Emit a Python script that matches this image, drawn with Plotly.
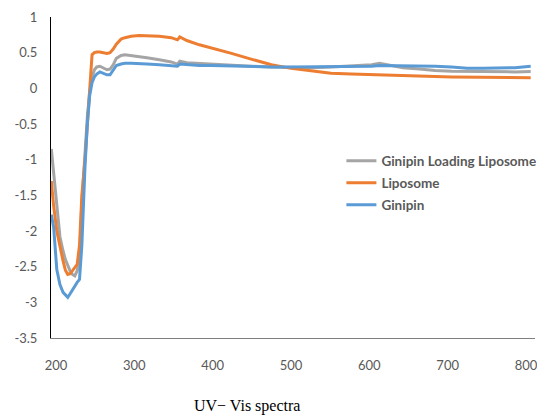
import plotly.graph_objects as go

wavelength = [194, 197, 201, 205, 209, 212, 215, 218, 221, 224, 227, 230, 233, 237, 240, 243,
              246, 249, 252, 256, 260, 265, 269, 273, 277, 283, 288, 296, 306, 316, 332, 347,
              355, 358, 367, 383, 398, 424, 449, 475, 500, 526, 551, 577, 603, 613, 623, 643,
              664, 684, 705, 725, 745, 766, 786, 806]

ginipin_loading_liposome = [-0.85, -1.2, -1.7, -2.08, -2.28, -2.4, -2.48, -2.56, -2.61, -2.63, -2.56,
                            -2.40, -1.6, -0.9, -0.4, -0.05, 0.15, 0.26, 0.30, 0.31, 0.29, 0.26, 0.27,
                            0.33, 0.42, 0.46, 0.47, 0.46, 0.45, 0.43, 0.40, 0.37, 0.34, 0.38, 0.36,
                            0.35, 0.34, 0.32, 0.31, 0.30, 0.29, 0.29, 0.30, 0.31, 0.33, 0.35, 0.33,
                            0.29, 0.27, 0.25, 0.24, 0.235, 0.23, 0.23, 0.23, 0.235]

liposome = [-1.3, -1.65, -2.0, -2.22, -2.42, -2.55, -2.61, -2.60, -2.56, -2.52, -2.47, -2.2, -1.5,
            -1.0, -0.5, 0.0, 0.47, 0.50, 0.51, 0.51, 0.50, 0.49, 0.50, 0.55, 0.62, 0.69, 0.71,
            0.73, 0.74, 0.74, 0.73, 0.71, 0.68, 0.72, 0.67, 0.61, 0.57, 0.49, 0.41, 0.33, 0.28,
            0.24, 0.21, 0.20, 0.19, 0.185, 0.18, 0.175, 0.17, 0.165, 0.16, 0.16, 0.155, 0.155,
            0.15, 0.15]

ginipin = [-1.77, -1.95, -2.54, -2.75, -2.86, -2.9, -2.93, -2.88, -2.82, -2.77, -2.72, -2.68, -2.2,
           -1.1, -0.5, -0.1, 0.08, 0.16, 0.20, 0.23, 0.21, 0.19, 0.19, 0.25, 0.32, 0.34, 0.35,
           0.35, 0.35, 0.34, 0.33, 0.32, 0.31, 0.34, 0.33, 0.32, 0.32, 0.31, 0.30, 0.30, 0.30,
           0.30, 0.30, 0.31, 0.31, 0.32, 0.32, 0.31, 0.31, 0.31, 0.30, 0.28, 0.28, 0.29, 0.29,
           0.31]

series_names = ["Ginipin Loading Liposome", "Liposome", "Ginipin"]
series_values = [ginipin_loading_liposome, liposome, ginipin]
series_colors = ["#A5A5A5", "#ED7D31", "#5B9BD5"]

x_ticks = [200, 300, 400, 500, 600, 700, 800]
y_ticks = [1, 0.5, 0, -0.5, -1, -1.5, -2, -2.5, -3, -3.5]
y_tick_text = ["1", "0.5", "0", "-0.5", "-1", "-1.5", "-2", "-2.5", "-3", "-3.5"]

fig = go.Figure()
for i, (name, vals, col) in enumerate(zip(series_names, series_values, series_colors)):
    fig.add_trace(go.Scatter(x=wavelength, y=vals, mode="lines", name=name,
                             legendgroup=f"g{i}",
                             line=dict(color=col, width=3)))

fig.update_layout(
    width=537, height=409,
    margin=dict(l=43, r=10, t=9, b=79, autoexpand=False),
    paper_bgcolor="white", plot_bgcolor="white",
    font=dict(family="Lato, Liberation Sans, sans-serif", size=13, color="#595959"),
    showlegend=True,
    legend=dict(x=0.6, y=0.6, xanchor="left", yanchor="top",
                traceorder="grouped", tracegroupgap=1.5,
                itemwidth=30,
                font=dict(family="Lato, Liberation Sans, sans-serif", size=13.5,
                          color="#595959", weight="bold"),
                bgcolor="rgba(0,0,0,0)"),
    xaxis=dict(range=[193.6, 811.5], tickvals=x_ticks, ticktext=[str(v) for v in x_ticks],
               showgrid=False, zeroline=False, showline=True, linecolor="#808080",
               linewidth=1, ticks="", ticklabelstandoff=15, automargin=False),
    yaxis=dict(range=[-3.5, 1], tickvals=y_ticks, ticktext=y_tick_text,
               showgrid=False, zeroline=False, showline=True, linecolor="#000000",
               linewidth=1, ticks="", ticklabelstandoff=10, automargin=False),
    annotations=[dict(text="UV− Vis spectra", xref="paper", yref="paper",
                      x=0.291, y=-0.212, xanchor="left", yanchor="middle",
                      showarrow=False,
                      font=dict(family="Liberation Serif, serif", size=16, color="#000000"))],
)

fig.write_html("out.html")
